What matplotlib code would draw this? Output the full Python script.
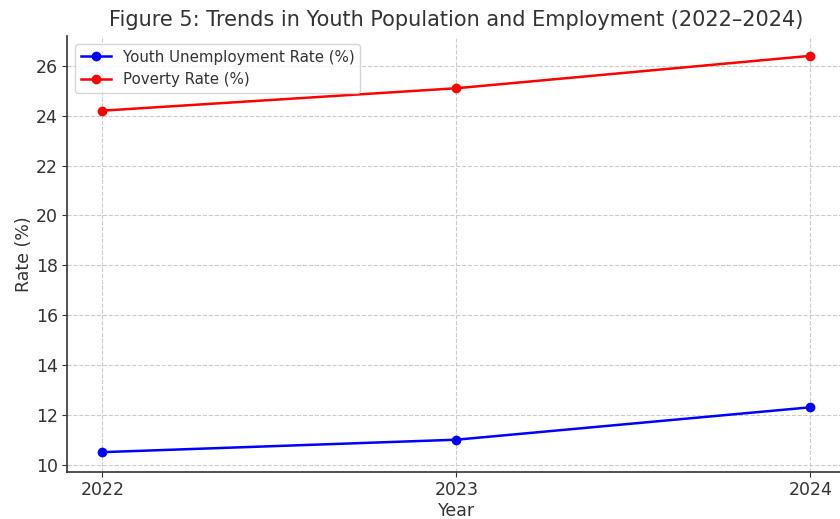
import matplotlib
matplotlib.use("Agg")
import matplotlib.pyplot as plt

years = [2022, 2023, 2024]
youth_unemployment = [10.5, 11.0, 12.3]
poverty_rate = [24.2, 25.1, 26.4]
yticks = [10, 12, 14, 16, 18, 20, 22, 24, 26]

plt.rcParams['font.family'] = ['DejaVu Sans']
txt = '#333333'
fig = plt.figure(figsize=(8.4, 5.19), dpi=100)
ax = fig.add_axes([0.0798, 0.0906, 0.927, 0.840])

ax.plot(years, youth_unemployment, color='blue', marker='o', linewidth=1.8, markersize=6,
        label='Youth Unemployment Rate (%)')
ax.plot(years, poverty_rate, color='red', marker='o', linewidth=1.8, markersize=6,
        label='Poverty Rate (%)')

ax.set_xticks(years)
ax.set_xticklabels([str(y) for y in years])
ax.set_yticks(yticks)
ax.tick_params(labelsize=12.5, colors=txt, length=3.5, pad=3)
ax.grid(True, linestyle='--', color='#cccccc', linewidth=0.8)
ax.spines['top'].set_visible(False)
ax.spines['right'].set_visible(False)
for s in ['left', 'bottom']:
    ax.spines[s].set_color('#333333')
    ax.spines[s].set_linewidth(1.2)

ax.set_xlabel('Year', fontsize=12.5, color=txt, labelpad=2)
ax.set_ylabel('Rate (%)', fontsize=12.5, color=txt, labelpad=2)
ax.set_title('Figure 5: Trends in Youth Population and Employment (2022–2024)',
             fontsize=15, color=txt, pad=7)
leg = ax.legend(loc='upper left', fontsize=10.8, labelcolor=txt)

fig.savefig('out.png', dpi=100)
